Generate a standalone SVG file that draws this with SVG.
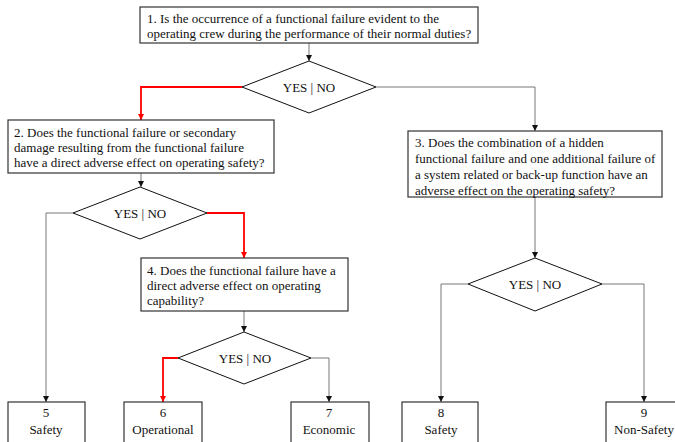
<svg xmlns="http://www.w3.org/2000/svg" width="675" height="442" viewBox="0 0 675 442">
  <style>
    .box { fill: #fff; stroke: #333; stroke-width: 1.2; }
    .dia { fill: #fff; stroke: #111; stroke-width: 1; }
    .c { text-anchor: middle; }
    .ln { fill: none; stroke: #777; stroke-width: 1; }
    .red { fill: none; stroke: #f00; stroke-width: 1.8; }
  </style>
  <defs>
    <marker id="ah" viewBox="0 0 6 6" refX="6" refY="3" markerWidth="6" markerHeight="6" markerUnits="userSpaceOnUse" orient="auto">
      <path d="M0,0 L6,3 L0,6 Z" fill="#111"/>
    </marker>
    <marker id="ahr" viewBox="0 0 6 6" refX="6" refY="3" markerWidth="6" markerHeight="6" markerUnits="userSpaceOnUse" orient="auto">
      <path d="M0,0 L6,3 L0,6 Z" fill="#f00"/>
    </marker>
  </defs>

  <!-- connectors -->
  <g id="connectors">
    <path class="ln" d="M309,43 V61" marker-end="url(#ah)"/>
    <path class="red" d="M242,87 H141 V120" marker-end="url(#ahr)"/>
    <path class="ln" d="M376,87 H535 V131" marker-end="url(#ah)"/>
    <path class="ln" d="M141,173 V187" marker-end="url(#ah)"/>
    <path class="ln" d="M73,213 H46 V402" marker-end="url(#ah)"/>
    <path class="red" d="M207,213 H244 V258" marker-end="url(#ahr)"/>
    <path class="ln" d="M535,197 V258" marker-end="url(#ah)"/>
    <path class="ln" d="M244,311 V332" marker-end="url(#ah)"/>
    <path class="red" d="M178,358 H163 V402" marker-end="url(#ahr)"/>
    <path class="ln" d="M311,358 H329 V402" marker-end="url(#ah)"/>
    <path class="ln" d="M468,284 H441 V402" marker-end="url(#ah)"/>
    <path class="ln" d="M602,284 H644 V402" marker-end="url(#ah)"/>
  </g>

  <g font-family="'Liberation Serif', 'Times New Roman', 'DejaVu Serif', serif" font-size="13" fill="#111">
  <!-- question 1 -->
  <g id="q1">
    <rect class="box" x="140" y="7" width="338" height="36"/>
    <text x="147" y="23">1. Is the occurrence of a functional failure evident to the</text>
    <text x="147" y="38">operating crew during the performance of their normal duties?</text>
  </g>
  <g id="d1">
    <polygon class="dia" points="309,61 376,87 309,113 242,87"/>
    <text class="c" x="309" y="92">YES | NO</text>
  </g>

  <!-- question 2 -->
  <g id="q2">
    <rect class="box" x="8" y="120" width="266" height="53"/>
    <text x="14" y="137">2. Does the functional failure or secondary</text>
    <text x="14" y="152">damage resulting from the functional failure</text>
    <text x="14" y="167">have a direct adverse effect on operating safety?</text>
  </g>
  <g id="d2">
    <polygon class="dia" points="140,187 207,213 140,239 73,213"/>
    <text class="c" x="140" y="218">YES | NO</text>
  </g>

  <!-- question 3 -->
  <g id="q3">
    <rect class="box" x="408" y="131" width="254" height="66"/>
    <text x="415" y="147">3. Does the combination of a hidden</text>
    <text x="415" y="163">functional failure and one additional failure of</text>
    <text x="415" y="179">a system related or back-up function have an</text>
    <text x="415" y="195">adverse effect on the operating safety?</text>
  </g>
  <g id="d4">
    <polygon class="dia" points="535,258 602,284 535,311 468,284"/>
    <text class="c" x="535" y="289">YES | NO</text>
  </g>

  <!-- question 4 -->
  <g id="q4">
    <rect class="box" x="141" y="258" width="207" height="53"/>
    <text x="147" y="275">4. Does the functional failure have a</text>
    <text x="147" y="290">direct adverse effect on operating</text>
    <text x="147" y="305">capability?</text>
  </g>
  <g id="d3">
    <polygon class="dia" points="244,332 311,358 244,384 178,358"/>
    <text class="c" x="245" y="363">YES | NO</text>
  </g>

  <!-- outcomes -->
  <g id="r5">
    <rect class="box" x="8" y="402" width="77" height="46"/>
    <text class="c" x="46" y="417">5</text>
    <text class="c" x="46" y="434">Safety</text>
  </g>
  <g id="r6">
    <rect class="box" x="124" y="402" width="78" height="46"/>
    <text class="c" x="163" y="417">6</text>
    <text class="c" x="163" y="434">Operational</text>
  </g>
  <g id="r7">
    <rect class="box" x="291" y="402" width="78" height="46"/>
    <text class="c" x="329" y="417">7</text>
    <text class="c" x="329" y="434">Economic</text>
  </g>
  <g id="r8">
    <rect class="box" x="402" y="402" width="76" height="46"/>
    <text class="c" x="441" y="417">8</text>
    <text class="c" x="441" y="434">Safety</text>
  </g>
  <g id="r9">
    <rect class="box" x="606" y="402" width="76" height="46"/>
    <text class="c" x="644" y="417">9</text>
    <text class="c" x="644" y="434">Non-Safety</text>
  </g>
  </g>
</svg>
